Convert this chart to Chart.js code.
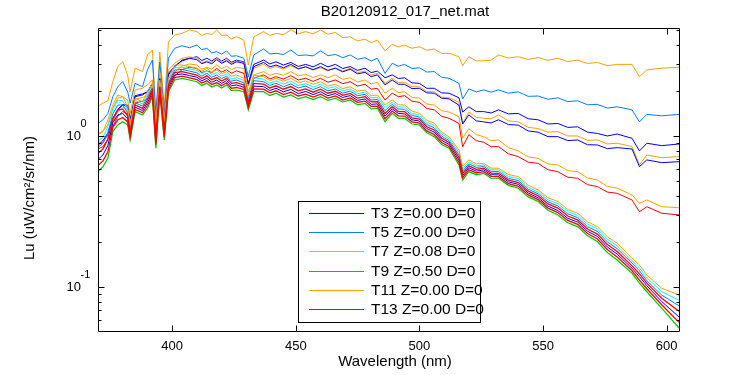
<!DOCTYPE html>
<html>
<head>
<meta charset="utf-8">
<script src="https://cdn.jsdelivr.net/npm/chart.js@4.4.1/dist/chart.umd.min.js"></script>
<style>
  html, body { margin: 0; padding: 0; background: #ffffff; }
  #wrap { width: 750px; height: 375px; }
</style>
</head>
<body>
<div id="wrap"><canvas id="c" width="750" height="375"></canvas></div>
<script>
// ---------- data ----------
const wavelengths = [370, 372, 374, 376, 378, 380, 382, 383, 385, 388, 390, 392, 393.4, 395, 396.8, 398.5, 401, 404, 407, 410,
  412, 414, 416, 418, 420, 422, 424, 426, 429, 430.8, 433, 437, 439.5, 442, 445, 448, 451, 454, 457, 460,
  463, 466, 469, 472, 475, 478, 480.5, 483, 486.1, 489, 491.5, 494, 497, 500, 503, 506, 509, 512, 516, 517.5,
  520, 523, 526, 529, 532, 536, 540, 544, 548, 552, 556, 560, 564, 568, 572, 576, 580, 586, 589, 592, 598, 605];

// separated (shallow) casts
const luOrangeTop = [1.57, 1.65, 1.71, 2.29, 2.88, 3.1, 2.54, 1.96, 2.81, 2.67, 3.44, 3.71, 1.3, 3.6, 1.57, 4.19, 4.66, 4.78, 5.04, 4.91,
  4.63, 4.78, 4.69, 5.04, 4.63, 4.66, 4.39, 4.54, 4.32, 2.95, 4.54, 4.91, 4.63, 4.78, 4.69, 5.04, 4.75, 4.91, 4.75, 5.04,
  4.72, 4.85, 4.48, 4.54, 4.26, 4.38, 4.15, 4.32, 3.66, 4.05, 3.88, 4.0, 3.81, 3.9, 3.70, 3.77, 3.52, 3.53, 3.35, 2.92,
  3.35, 3.14, 3.15, 3.18, 3.44, 3.28, 3.35, 3.21, 3.31, 3.17, 3.27, 3.11, 3.18, 3.02, 3.07, 2.92, 2.98, 2.98, 2.47, 2.74, 2.81, 2.85];
const luAzure = [1.21, 1.28, 1.41, 1.82, 2.12, 2.29, 1.96, 1.65, 2.23, 2.12, 2.74, 3.18, 1.42, 3.09, 1.44, 3.28, 3.81, 3.96, 3.84, 4.0,
  3.73, 3.81, 3.55, 3.62, 3.48, 3.66, 3.37, 3.4, 3.27, 2.47, 3.44, 3.77, 3.49, 3.53, 3.46, 3.71, 3.41, 3.44, 3.39, 3.66,
  3.40, 3.47, 3.30, 3.44, 3.22, 3.3, 3.14, 3.27, 2.6, 3.03, 2.90, 2.98, 2.80, 2.83, 2.65, 2.67, 2.45, 2.41, 2.23, 1.76,
  2.05, 1.96, 2.02, 1.95, 2.02, 1.92, 1.96, 1.83, 1.84, 1.75, 1.79, 1.69, 1.71, 1.61, 1.62, 1.53, 1.56, 1.49, 1.24, 1.39, 1.36, 1.39];
const luBlueUpper = [0.872, 0.917, 1.02, 1.24, 1.49, 1.6, 1.57, 1.24, 1.82, 1.87, 1.96, 2.23, 1.1, 2.35, 1.28, 2.54, 2.88, 3.18, 3.27, 3.35,
  3.16, 3.27, 3.14, 3.3, 3.14, 3.27, 3.08, 3.18, 3.1, 2.23, 2.98, 3.18, 3.0, 3.1, 2.95, 3.07, 2.89, 2.98, 2.87, 3.03,
  2.87, 2.98, 2.80, 2.88, 2.72, 2.81, 2.63, 2.69, 2.43, 2.54, 2.40, 2.43, 2.25, 2.23, 2.07, 2.07, 1.93, 1.92, 1.79, 1.44,
  1.56, 1.45, 1.45, 1.42, 1.49, 1.40, 1.41, 1.30, 1.28, 1.20, 1.21, 1.14, 1.15, 1.06, 1.04, 1.0, 1.03, 0.965, 0.796, 0.895, 0.863, 0.885];
const luOrangeUpper = [1.03, 1.08, 1.18, 1.53, 1.78, 1.82, 1.73, 1.41, 2.02, 2.07, 2.18, 2.35, 1.18, 2.65, 1.32, 2.74, 3.03, 3.27, 3.35, 3.27,
  3.06, 3.14, 3.06, 3.27, 3.08, 3.18, 3.02, 3.14, 3.07, 2.14, 2.81, 2.98, 2.80, 2.88, 2.77, 2.92, 2.77, 2.88, 2.73, 2.83,
  2.70, 2.83, 2.69, 2.81, 2.63, 2.69, 2.53, 2.6, 2.23, 2.41, 2.26, 2.27, 2.12, 2.12, 1.97, 1.96, 1.81, 1.79, 1.67, 1.21,
  1.44, 1.33, 1.31, 1.30, 1.38, 1.26, 1.24, 1.14, 1.12, 1.06, 1.07, 1.0, 1.0, 0.936, 0.941, 0.886, 0.895, 0.85, 0.643, 0.748, 0.718, 0.73];
const luBlueLower = [0.88, 0.93, 1.05, 1.3, 1.5, 1.62, 1.6, 1.28, 1.85, 1.9, 1.96, 2.2, 1.1, 2.4, 1.25, 2.6, 2.9, 3.14, 3.27, 3.2,
  3.01, 3.1, 3.01, 3.2, 3.03, 3.14, 2.98, 3.1, 3.03, 2.2, 2.88, 3.07, 2.87, 2.95, 2.83, 2.98, 2.79, 2.87, 2.75, 2.88,
  2.72, 2.81, 2.66, 2.77, 2.58, 2.64, 2.47, 2.54, 2.18, 2.35, 2.20, 2.2, 2.06, 2.07, 1.93, 1.92, 1.78, 1.76, 1.6, 1.2,
  1.38, 1.26, 1.24, 1.22, 1.28, 1.19, 1.18, 1.08, 1.06, 0.99, 0.99, 0.932, 0.941, 0.875, 0.872, 0.825, 0.837, 0.82, 0.627, 0.694, 0.666, 0.676];
const luOrangeLower = [0.9, 0.92, 1.0, 1.25, 1.45, 1.55, 1.5, 1.2, 1.75, 1.8, 1.85, 2.1, 1.0, 2.25, 1.2, 2.4, 2.65, 2.9, 3.0, 2.95,
  2.77, 2.85, 2.77, 2.95, 2.79, 2.9, 2.75, 2.85, 2.8, 1.95, 2.54, 2.67, 2.52, 2.6, 2.52, 2.67, 2.50, 2.56, 2.44, 2.54,
  2.43, 2.54, 2.37, 2.43, 2.28, 2.35, 2.21, 2.27, 1.92, 2.07, 1.94, 1.96, 1.80, 1.78, 1.63, 1.6, 1.47, 1.44, 1.34, 0.965,
  1.12, 1.02, 0.99, 0.932, 0.941, 0.838, 0.796, 0.727, 0.711, 0.653, 0.643, 0.59, 0.58, 0.527, 0.511, 0.464, 0.451, 0.407, 0.358, 0.377, 0.34, 0.335];
const luRedUpper = [0.82, 0.85, 0.95, 1.15, 1.35, 1.45, 1.4, 1.1, 1.65, 1.7, 1.75, 2.0, 0.95, 2.1, 1.1, 2.25, 2.5, 2.75, 2.85, 2.8,
  2.63, 2.7, 2.63, 2.8, 2.65, 2.75, 2.60, 2.7, 2.6, 1.8, 2.41, 2.54, 2.39, 2.47, 2.38, 2.51, 2.35, 2.41, 2.30, 2.41,
  2.27, 2.35, 2.22, 2.29, 2.14, 2.2, 2.04, 2.07, 1.73, 1.92, 1.82, 1.85, 1.70, 1.67, 1.52, 1.49, 1.35, 1.31, 1.21, 0.85,
  1.02, 0.931, 0.909, 0.849, 0.85, 0.762, 0.73, 0.671, 0.659, 0.598, 0.58, 0.533, 0.525, 0.476, 0.462, 0.425, 0.417, 0.377, 0.315, 0.34, 0.308, 0.30];

// deeper casts forming the dense bundle (top to bottom)
const bundle1 = [1.015, 1.067, 1.276, 1.605, 1.869, 1.82, 1.563, 1.183, 1.777, 1.686, 1.964, 2.235, 1.183, 2.347, 1.243, 2.41, 2.952, 2.952, 2.876, 2.807,
  2.68, 2.807, 2.65, 2.735, 2.58, 2.665, 2.48, 2.533, 2.41, 1.868, 2.533, 2.468, 2.33, 2.41, 2.30, 2.41, 2.26, 2.313, 2.20, 2.288,
  2.14, 2.199, 2.06, 2.121, 1.98, 2.016, 1.85, 1.868, 1.604, 1.731, 1.61, 1.604, 1.46, 1.413, 1.27, 1.214, 1.06, 0.989, 0.808, 0.627,
  0.694, 0.653, 0.659, 0.613, 0.611, 0.555, 0.538, 0.472, 0.439, 0.39, 0.368, 0.326, 0.308, 0.270, 0.251, 0.215, 0.195, 0.155, 0.140, 0.120, 0.0981, 0.0884];
const bundle2 = [0.926, 0.977, 1.157, 1.498, 1.731, 1.708, 1.492, 1.139, 1.718, 1.632, 1.883, 2.16, 1.115, 2.27, 1.187, 2.332, 2.842, 2.855, 2.78, 2.714,
  2.59, 2.701, 2.55, 2.632, 2.49, 2.576, 2.39, 2.438, 2.332, 1.798, 2.427, 2.376, 2.24, 2.319, 2.21, 2.309, 2.16, 2.224, 2.11, 2.203,
  2.07, 2.124, 1.99, 2.051, 1.91, 1.95, 1.79, 1.806, 1.538, 1.674, 1.56, 1.552, 1.41, 1.372, 1.23, 1.174, 1.03, 0.961, 0.778, 0.606,
  0.674, 0.635, 0.643, 0.598, 0.596, 0.539, 0.522, 0.457, 0.426, 0.377, 0.356, 0.316, 0.298, 0.261, 0.242, 0.207, 0.187, 0.149, 0.134, 0.115, 0.0931, 0.0816];
const bundle3 = [0.843, 0.893, 1.05, 1.40, 1.604, 1.604, 1.424, 1.096, 1.659, 1.578, 1.806, 2.085, 1.05, 2.196, 1.133, 2.25, 2.735, 2.76, 2.689, 2.62,
  2.49, 2.60, 2.45, 2.533, 2.40, 2.49, 2.31, 2.347, 2.25, 1.731, 2.326, 2.288, 2.16, 2.234, 2.12, 2.212, 2.08, 2.138, 2.03, 2.121,
  1.99, 2.048, 1.92, 1.983, 1.85, 1.886, 1.73, 1.746, 1.473, 1.619, 1.51, 1.501, 1.37, 1.332, 1.19, 1.133, 0.996, 0.932, 0.749, 0.586,
  0.654, 0.619, 0.628, 0.583, 0.581, 0.524, 0.506, 0.444, 0.414, 0.366, 0.344, 0.305, 0.288, 0.251, 0.233, 0.199, 0.179, 0.144, 0.128, 0.110, 0.0884, 0.0750];
const bundle4 = [0.767, 0.818, 0.955, 1.308, 1.486, 1.504, 1.359, 1.055, 1.604, 1.524, 1.731, 2.016, 0.991, 2.121, 1.082, 2.177, 2.632, 2.665, 2.597, 2.533,
  2.40, 2.503, 2.36, 2.438, 2.31, 2.407, 2.23, 2.259, 2.177, 1.666, 2.23, 2.203, 2.08, 2.150, 2.04, 2.124, 1.99, 2.051, 1.95, 2.041,
  1.92, 1.977, 1.86, 1.915, 1.78, 1.821, 1.68, 1.687, 1.41, 1.563, 1.45, 1.449, 1.32, 1.293, 1.15, 1.096, 0.966, 0.906, 0.721, 0.566,
  0.634, 0.601, 0.611, 0.568, 0.566, 0.510, 0.492, 0.431, 0.402, 0.355, 0.333, 0.295, 0.278, 0.242, 0.224, 0.191, 0.172, 0.138, 0.122, 0.106, 0.0842, 0.0690];
const bundle5 = [0.699, 0.749, 0.865, 1.223, 1.377, 1.41, 1.298, 1.015, 1.552, 1.473, 1.659, 1.95, 0.934, 2.051, 1.033, 2.104, 2.533, 2.576, 2.511, 2.449,
  2.32, 2.41, 2.27, 2.347, 2.23, 2.326, 2.15, 2.177, 2.104, 1.604, 2.14, 2.121, 2.0, 2.07, 1.96, 2.035, 1.91, 1.971, 1.88, 1.964,
  1.85, 1.909, 1.80, 1.851, 1.72, 1.76, 1.62, 1.632, 1.354, 1.512, 1.41, 1.40, 1.28, 1.255, 1.12, 1.06, 0.936, 0.880, 0.694, 0.547,
  0.616, 0.585, 0.596, 0.554, 0.552, 0.497, 0.478, 0.419, 0.39, 0.343, 0.321, 0.285, 0.269, 0.234, 0.216, 0.184, 0.165, 0.133, 0.117, 0.102, 0.0801, 0.0633];
const bundle6 = [0.637, 0.684, 0.785, 1.142, 1.276, 1.326, 1.239, 0.977, 1.498, 1.424, 1.592, 1.883, 0.879, 1.983, 0.986, 2.032, 2.438, 2.49, 2.427, 2.366,
  2.24, 2.319, 2.19, 2.259, 2.15, 2.25, 2.07, 2.095, 2.032, 1.544, 2.051, 2.041, 1.93, 1.992, 1.88, 1.95, 1.84, 1.895, 1.81, 1.891,
  1.78, 1.84, 1.73, 1.789, 1.67, 1.702, 1.57, 1.578, 1.298, 1.462, 1.36, 1.354, 1.24, 1.218, 1.08, 1.023, 0.905, 0.853, 0.668, 0.529,
  0.598, 0.569, 0.581, 0.540, 0.538, 0.483, 0.464, 0.407, 0.379, 0.333, 0.311, 0.276, 0.26, 0.226, 0.208, 0.177, 0.158, 0.128, 0.111, 0.0973, 0.0762, 0.0583];
const bundle7 = [0.581, 0.627, 0.712, 1.067, 1.183, 1.243, 1.183, 0.941, 1.449, 1.377, 1.526, 1.821, 0.829, 1.918, 0.941, 1.964, 2.347, 2.41, 2.347, 2.288,
  2.16, 2.234, 2.11, 2.177, 2.08, 2.177, 2.0, 2.016, 1.964, 1.486, 1.964, 1.964, 1.85, 1.918, 1.81, 1.868, 1.76, 1.821, 1.74, 1.821,
  1.72, 1.777, 1.68, 1.731, 1.61, 1.645, 1.51, 1.526, 1.243, 1.413, 1.31, 1.31, 1.20, 1.183, 1.05, 0.989, 0.877, 0.829, 0.643, 0.511,
  0.581, 0.553, 0.566, 0.526, 0.525, 0.471, 0.451, 0.395, 0.368, 0.322, 0.30, 0.266, 0.251, 0.218, 0.20, 0.169, 0.151, 0.123, 0.106, 0.0930, 0.0724, 0.0535];

// axis ticks and texts
const xTicks = [400, 450, 500, 550, 600];
const yMajorTicks = [0.1, 1];
const yExponents = ['-1', '0'];
const yMinorTicks = [0.06, 0.07, 0.08, 0.09, 0.2, 0.3, 0.4, 0.5, 0.6, 0.7, 0.8, 0.9, 2, 3, 4, 5];
const legendLabels = ['T3 Z=0.00 D=0', 'T5 Z=0.00 D=0', 'T7 Z=0.08 D=0', 'T9 Z=0.50 D=0', 'T11 Z=0.00 D=0', 'T13 Z=0.00 D=0'];
const titleText = 'B20120912_017_net.mat';
const xTitle = 'Wavelength (nm)';
const yTitle = 'Lu (uW/cm\u00B2/sr/nm)';

// ---------- styling ----------
const C = { blue: '#0000FF', azure: '#0080FF', cyan: '#00FFFF', green: '#00C800', orange: '#FFA000', red: '#FF0000' };
const legendColors = [C.blue, C.azure, C.cyan, C.green, C.orange, C.red];
const FONT = '"Liberation Sans", Arial, Helvetica, sans-serif';

// drawing order: back to front
const seriesList = [
  { label: 'T11a', data: luOrangeTop, color: C.orange, w: 1 },
  { label: 'T5a', data: luAzure, color: C.azure, w: 1 },
  { label: 'T3a', data: luBlueUpper, color: C.blue, w: 1 },
  { label: 'T11b', data: luOrangeUpper, color: C.orange, w: 1 },
  { label: 'T3b', data: luBlueLower, color: C.blue, w: 1 },
  { label: 'T11c', data: luOrangeLower, color: C.orange, w: 1 },
  { label: 'T13a', data: luRedUpper, color: C.red, w: 1 },
  { label: 'T7a', data: bundle2, color: C.cyan, w: 1 },
  { label: 'T5b', data: bundle3, color: C.azure, w: 1 },
  { label: 'T3c', data: bundle5, color: C.blue, w: 1 },
  { label: 'T11d', data: bundle1, color: C.orange, w: 1 },
  { label: 'T9a', data: bundle7, color: C.green, w: 1.2 },
  { label: 'T13b', data: bundle6, color: C.red, w: 1.3 },
  { label: 'T13c', data: bundle4, color: C.red, w: 1.3 }
];

const datasets = seriesList.map((s, i) => ({
  label: s.label,
  data: wavelengths.map((w, j) => ({ x: w, y: s.data[j] })),
  borderColor: s.color,
  backgroundColor: s.color,
  borderWidth: s.w,
  pointRadius: 0,
  tension: 0,
  fill: false,
  order: seriesList.length - i
}));

const matlabFrame = {
  id: 'matlabFrame',
  beforeDraw(chart) {
    const c = chart.ctx;
    c.save();
    c.fillStyle = '#ffffff';
    c.fillRect(0, 0, chart.width, chart.height);
    c.restore();
  },
  afterDraw(chart) {
    const ctx = chart.ctx;
    const a = chart.chartArea;
    const xs = chart.scales.x, ys = chart.scales.y;
    const L = Math.round(a.left) + 0.5, R = Math.round(a.right) + 0.5;
    const T = Math.round(a.top) + 0.5, B = Math.round(a.bottom) + 0.5;
    ctx.save();
    ctx.strokeStyle = '#000';
    ctx.lineWidth = 1;
    ctx.beginPath();
    ctx.rect(L, T, R - L, B - T);
    ctx.stroke();
    ctx.beginPath();
    xTicks.forEach(v => {
      const px = Math.round(xs.getPixelForValue(v)) + 0.5;
      ctx.moveTo(px, B); ctx.lineTo(px, B - 6);
      ctx.moveTo(px, T); ctx.lineTo(px, T + 6);
    });
    yMajorTicks.forEach(v => {
      const py = Math.round(ys.getPixelForValue(v)) + 0.5;
      ctx.moveTo(L, py); ctx.lineTo(L + 6, py);
      ctx.moveTo(R, py); ctx.lineTo(R - 6, py);
    });
    yMinorTicks.forEach(v => {
      const py = Math.round(ys.getPixelForValue(v)) + 0.5;
      ctx.moveTo(L, py); ctx.lineTo(L + 3, py);
      ctx.moveTo(R, py); ctx.lineTo(R - 3, py);
    });
    ctx.stroke();

    ctx.fillStyle = '#000';
    ctx.font = '13px ' + FONT;
    ctx.textAlign = 'center';
    ctx.textBaseline = 'middle';
    xTicks.forEach(v => ctx.fillText(String(v), xs.getPixelForValue(v), a.bottom + 15));
    yMajorTicks.forEach((v, i) => {
      const py = ys.getPixelForValue(v);
      ctx.font = '13px ' + FONT;
      ctx.textAlign = 'right';
      ctx.fillText('10', a.left - 17, py);
      ctx.font = '11px ' + FONT;
      ctx.textAlign = 'left';
      ctx.fillText(yExponents[i], a.left - 17.5, py - 12.5);
    });
    ctx.font = '15px ' + FONT;
    ctx.textAlign = 'center';
    ctx.fillText(xTitle, 395, a.bottom + 31);
    ctx.fillText(titleText, 405, 12);
    ctx.save();
    ctx.translate(30, 198);
    ctx.rotate(-Math.PI / 2);
    ctx.fillText(yTitle, 0, 0);
    ctx.restore();

    const bx0 = 298.5, by0 = 201.5, bx1 = 480.5, by1 = 322.5;
    ctx.fillStyle = '#fff';
    ctx.fillRect(bx0, by0, bx1 - bx0, by1 - by0);
    ctx.strokeStyle = '#000';
    ctx.strokeRect(bx0, by0, bx1 - bx0, by1 - by0);
    ctx.font = '15.5px ' + FONT;
    ctx.textAlign = 'left';
    ctx.textBaseline = 'middle';
    legendLabels.forEach((lab, i) => {
      const yy = Math.round(213 + i * 19.2) + 0.5;
      ctx.strokeStyle = legendColors[i];
      ctx.lineWidth = 1;
      ctx.beginPath();
      ctx.moveTo(309, yy); ctx.lineTo(364, yy);
      ctx.stroke();
      ctx.fillStyle = '#000';
      ctx.fillText(lab, 371, yy + 0.5);
    });
    ctx.restore();
  }
};

new Chart(document.getElementById('c'), {
  type: 'line',
  data: { datasets },
  options: {
    responsive: false,
    animation: false,
    devicePixelRatio: 1,
    layout: { padding: { left: 98, right: 71, top: 28, bottom: 44 } },
    plugins: { legend: { display: false }, tooltip: { enabled: false }, title: { display: false } },
    elements: { line: { borderJoinStyle: 'miter' } },
    scales: {
      x: { type: 'linear', min: 370, max: 605, display: false },
      y: { type: 'logarithmic', min: 0.0511, max: 5.19, display: false }
    }
  },
  plugins: [matlabFrame]
});
</script>
</body>
</html>
